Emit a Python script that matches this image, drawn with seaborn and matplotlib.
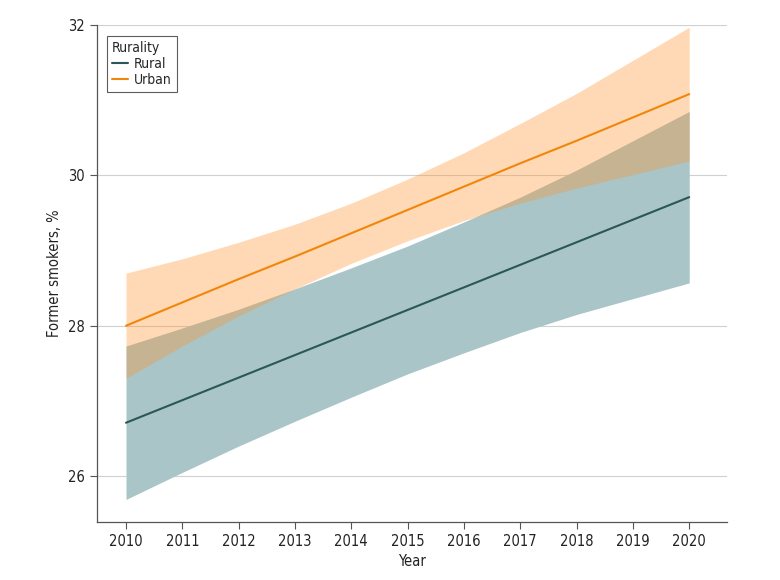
import seaborn as sns
import pandas as pd
import numpy as np
import matplotlib.pyplot as plt

years = [2010, 2011, 2012, 2013, 2014, 2015, 2016, 2017, 2018, 2019, 2020]

rural_est = [26.71, 27.01, 27.31, 27.61, 27.91, 28.21, 28.51, 28.81, 29.11, 29.41, 29.71]
rural_low = [25.69, 26.05, 26.40, 26.73, 27.05, 27.36, 27.64, 27.91, 28.15, 28.36, 28.57]
rural_high = [27.73, 27.97, 28.22, 28.49, 28.77, 29.06, 29.38, 29.71, 30.07, 30.46, 30.85]

urban_est = [28.00, 28.31, 28.62, 28.92, 29.23, 29.54, 29.85, 30.16, 30.46, 30.77, 31.08]
urban_low = [27.30, 27.73, 28.13, 28.49, 28.83, 29.13, 29.40, 29.63, 29.83, 30.01, 30.19]
urban_high = [28.70, 28.89, 29.11, 29.35, 29.63, 29.95, 30.30, 30.69, 31.09, 31.53, 31.97]

df = pd.DataFrame({
    'Year': years * 2,
    'Former smokers': rural_est + urban_est,
    'Rurality': ['Rural'] * len(years) + ['Urban'] * len(years),
})

sns.set_style('white')
plt.rcParams['font.family'] = ['DejaVu Sans']
plt.rcParams['font.stretch'] = 'condensed'

fig = plt.figure(figsize=(7.8, 5.8), dpi=100)
ax = fig.add_axes([0.124, 0.1, 0.808, 0.857])

# bands first, rural under urban
ax.fill_between(years, rural_low, rural_high, color='#A9C5C7', lw=0, zorder=1)
ax.fill_between(years, urban_low, urban_high, color='#FF9430', alpha=0.35, lw=0, zorder=2)

sns.lineplot(data=df, x='Year', y='Former smokers', hue='Rurality',
             palette={'Rural': '#2B5759', 'Urban': '#F0870A'}, lw=1.5, ax=ax, zorder=3)

ax.set_xlim(2009.48, 2020.67)
ax.set_ylim(25.39, 32)
ax.set_xticks(years)
ax.set_yticks([26, 28, 30, 32])
ax.yaxis.grid(True, color='#D0D0D0', lw=0.8)
ax.set_axisbelow(True)

sns.despine(ax=ax)
for s in ['left', 'bottom']:
    ax.spines[s].set_color('#555555')
    ax.spines[s].set_linewidth(0.9)

ax.tick_params(axis='both', direction='out', length=5, width=0.8, color='#555555',
               labelsize=10.5, labelcolor='#222222', left=True, bottom=True)
ax.set_xlabel('Year', fontsize=10.5, color='#222222')
ax.set_ylabel('Former smokers, %', fontsize=10.5, color='#222222')

leg = ax.legend(title='Rurality', loc='upper left', bbox_to_anchor=(0.005, 0.992),
                fontsize=10, title_fontsize=10, frameon=True, fancybox=False,
                handlelength=1.2, handletextpad=0.4, borderpad=0.35, labelspacing=0.15)
leg.get_frame().set_edgecolor('#333333')
leg.get_frame().set_linewidth(0.8)
leg._legend_box.align = 'left'

fig.savefig('out.png', dpi=100)
